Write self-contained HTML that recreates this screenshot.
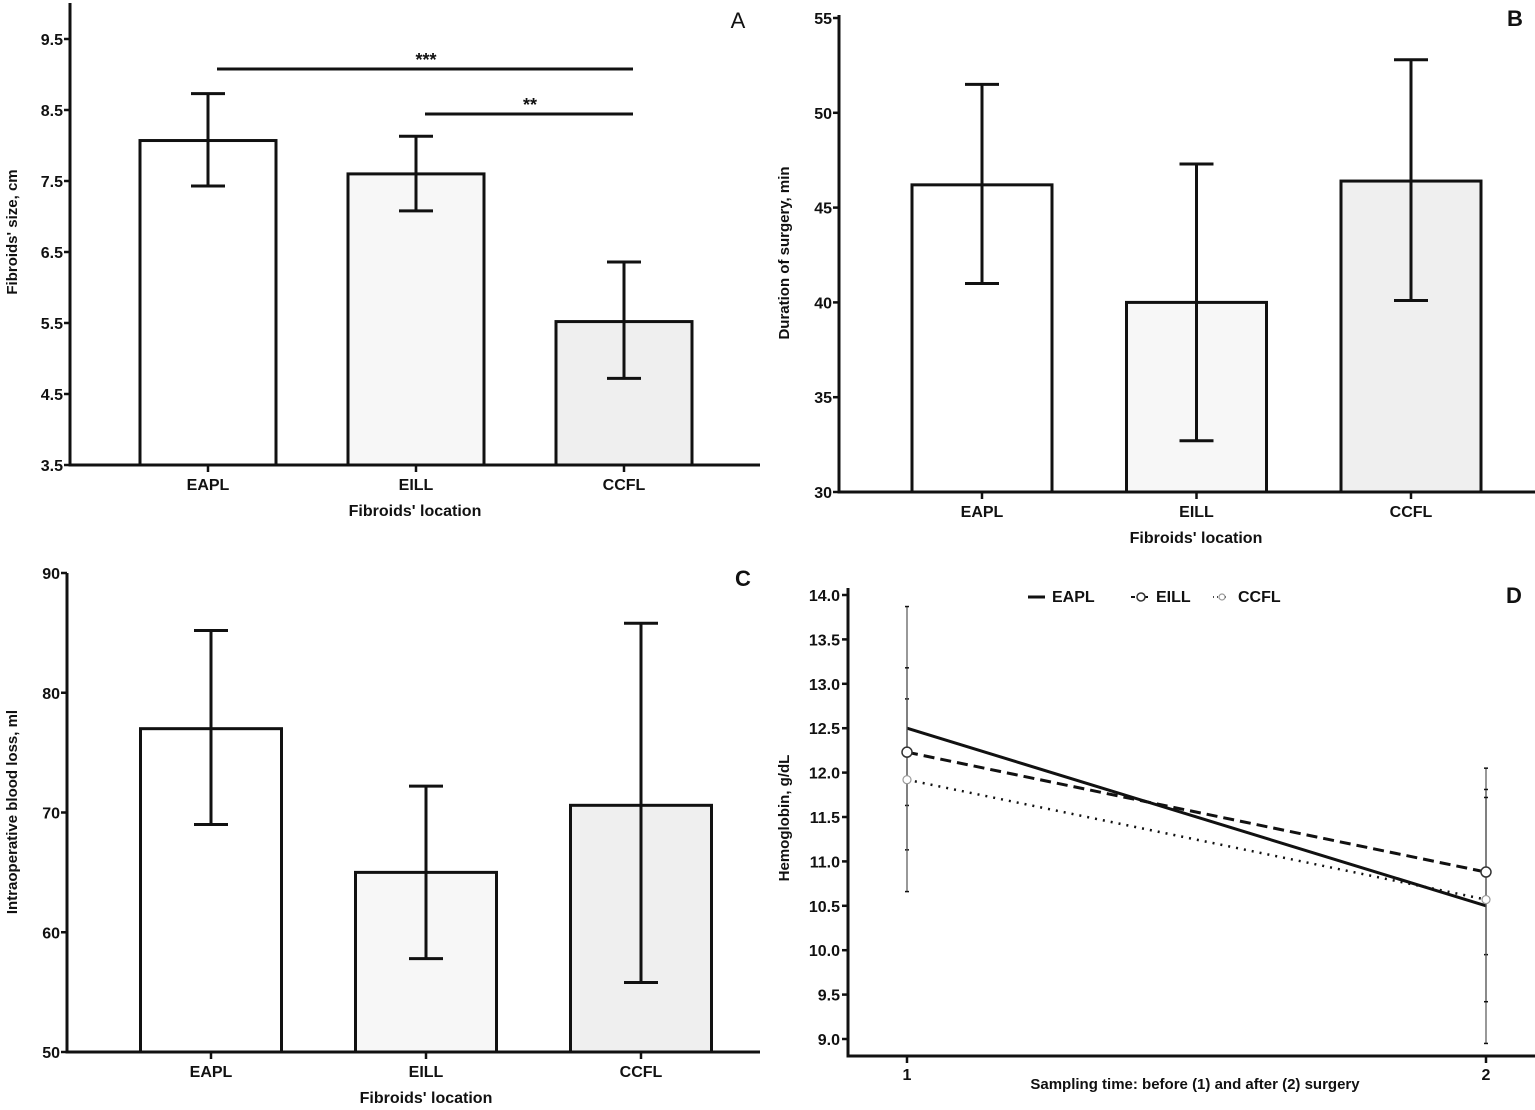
<!DOCTYPE html>
<html><head><meta charset="utf-8"><style>
html,body{margin:0;padding:0;background:#fff;}
svg{display:block;font-family:"Liberation Sans Narrow","Liberation Sans",sans-serif;}
</style></head><body>
<svg id="chart" width="1535" height="1110" viewBox="0 0 1535 1110" xmlns="http://www.w3.org/2000/svg"></svg>
<script>
const categories = ["EAPL","EILL","CCFL"];
const sizeMeans = [8.07, 7.60, 5.52];
const sizeErrHi = [8.73, 8.13, 6.36];
const sizeErrLo = [7.43, 7.08, 4.72];
const sizeTicks = ["3.5","4.5","5.5","6.5","7.5","8.5","9.5"];
const durMeans = [46.2, 40.0, 46.4];
const durErrHi = [51.5, 47.3, 52.8];
const durErrLo = [41.0, 32.7, 40.1];
const durTicks = ["30","35","40","45","50","55"];
const lossMeans = [77.0, 65.0, 70.6];
const lossErrHi = [85.2, 72.2, 85.8];
const lossErrLo = [69.0, 57.8, 55.8];
const lossTicks = ["50","60","70","80","90"];
const hbTimes = ["1","2"];
const hbEAPL = [12.50, 10.50];
const hbEILL = [12.23, 10.88];
const hbCCFL = [11.92, 10.57];
const hbErrEAPL = [1.37, 1.55];
const hbErrEILL = [0.60, 0.93];
const hbErrCCFL = [1.26, 1.15];
const hbTicks = ["9.0","9.5","10.0","10.5","11.0","11.5","12.0","12.5","13.0","13.5","14.0"];

const svg = document.getElementById('chart');
const NS = "http://www.w3.org/2000/svg";
function mk(tag, attrs, name, parent){
  const e = document.createElementNS(NS, tag);
  for (const k in attrs) e.setAttribute(k, attrs[k]);
  
  
  (parent||svg).appendChild(e);
  return e;
}
function txt(x,y,s,name,opts){
  opts=opts||{};
  const t = mk('text',{x:x,y:y,'font-size':opts.size||15,'font-weight':opts.weight||'bold','text-anchor':opts.anchor||'middle',fill:'#111'},name);
  if(opts.rot) t.setAttribute('transform','rotate(-90 '+x+' '+y+')');
  t.textContent=s; return t;
}
function line(x1,y1,x2,y2,name,w,dash){
  const l = mk('line',{x1:x1,y1:y1,x2:x2,y2:y2,stroke:'#111','stroke-width':w||3},name);
  if(dash) l.setAttribute('stroke-dasharray',dash);
  return l;
}
const fills = ["#ffffff","#f7f7f7","#efefef"];

function barPanel(p){
  const ys = v => p.y0 + (v - p.vmin)/(p.vmax-p.vmin)*(p.y1-p.y0);
  const xs = i => p.cx0 + i*p.step;
  line(p.ax, p.axTop, p.ax, p.y0+1.5, p.id+'-y-axis');
  line(p.ax, p.y0, p.axRight, p.y0, p.id+'-x-axis');
  p.ticks.forEach(t=>{
    const y = ys(parseFloat(t));
    line(p.ax-6,y,p.ax,y,p.id+'-y-tick',2.5);
    txt(p.ax-7,y+6,t,p.id+'-y-tick-label',{anchor:'end',size:16});
  });
  categories.forEach((c,i)=>{
    const cx = xs(i);
    const top = ys(p.means[i]);
    mk('rect',{x:cx-p.bw/2,y:top,width:p.bw,height:p.y0-top,fill:fills[i],stroke:'#111','stroke-width':3},p.id+'-bar-'+c.toLowerCase());
    const hi = ys(p.hi[i]), lo = ys(p.lo[i]);
    line(cx,hi,cx,lo,p.id+'-error-bar-'+c.toLowerCase());
    line(cx-17,hi,cx+17,hi,p.id+'-error-cap-top');
    line(cx-17,lo,cx+17,lo,p.id+'-error-cap-bottom');
    line(cx,p.y0,cx,p.y0+7,p.id+'-x-tick',2.5);
    txt(cx,p.y0+25,c,p.id+'-x-tick-label',{size:16});
  });
  txt(p.xtX,p.y0+51,"Fibroids' location",p.id+'-x-axis-title',{size:16});
  txt(p.ytX,p.ytY,p.ytitle,p.id+'-y-axis-title',{rot:true,size:15});
  txt(p.lx,p.ly,p.letter,p.id+'-panel-label',{size:22,weight:p.letterW||'bold'});
  return {ys,xs};
}

const A = barPanel({id:'panel-a',ax:70,axTop:3,axRight:760,y0:465,y1:39,vmin:3.5,vmax:9.5,cx0:208,step:208,bw:136,
  means:sizeMeans,hi:sizeErrHi,lo:sizeErrLo,ticks:sizeTicks,xtX:415,ytX:17,ytY:232,ytitle:"Fibroids' size, cm",lx:738,ly:28,letter:'A',letterW:'normal'});
line(A.xs(0)+9,69,A.xs(2)+9,69,'significance-line-eapl-ccfl');
txt(426,66,'***','significance-stars-3',{size:18});
line(A.xs(1)+9,114,A.xs(2)+9,114,'significance-line-eill-ccfl');
txt(530,111,'**','significance-stars-2',{size:18});

barPanel({id:'panel-b',ax:839,axTop:15,axRight:1535,y0:492,y1:18,vmin:30,vmax:55,cx0:982,step:214.5,bw:140,
  means:durMeans,hi:durErrHi,lo:durErrLo,ticks:durTicks,xtX:1196,ytX:789,ytY:253,ytitle:"Duration of surgery, min",lx:1515,ly:26,letter:'B'});

barPanel({id:'panel-c',ax:67,axTop:573,axRight:760,y0:1052,y1:573,vmin:50,vmax:90,cx0:211,step:215,bw:141,
  means:lossMeans,hi:lossErrHi,lo:lossErrLo,ticks:lossTicks,xtX:426,ytX:17,ytY:812,ytitle:"Intraoperative blood loss, ml",lx:743,ly:586,letter:'C'});

(function(){
  const id='panel-d', ax=848, y0=1056;
  const ys = v => 1039 + (v-9)/(14-9)*(595-1039);
  const xs = i => 907 + i*(1486-907);
  line(ax,588,ax,y0+1.5,id+'-y-axis');
  line(ax,y0,1535,y0,id+'-x-axis');
  hbTicks.forEach(t=>{
    const y=ys(parseFloat(t));
    line(ax-6,y,ax,y,id+'-y-tick',2.5);
    txt(ax-8,y+6,t,id+'-y-tick-label',{anchor:'end',size:16});
  });
  hbTimes.forEach((t,i)=>{
    line(xs(i),y0,xs(i),y0+7,id+'-x-tick',2.5);
    txt(xs(i),y0+24,t,id+'-x-tick-label',{size:16});
  });
  txt(1195,1089,"Sampling time: before (1) and after (2) surgery",id+'-x-axis-title',{size:15});
  txt(789,818,"Hemoglobin, g/dL",id+'-y-axis-title',{rot:true,size:15});
  txt(1514,603,'D',id+'-panel-label',{size:22});
  const series=[
    {n:'eapl',v:hbEAPL,e:hbErrEAPL,w:3,dash:null},
    {n:'eill',v:hbEILL,e:hbErrEILL,w:3,dash:'11 6'},
    {n:'ccfl',v:hbCCFL,e:hbErrCCFL,w:2.5,dash:'2 6'}];
  series.forEach(s=>{
    s.v.forEach((v,i)=>{
      const x=xs(i);
      line(x,ys(v+s.e[i]),x,ys(v-s.e[i]),id+'-error-bar-'+s.n,1.2).setAttribute('stroke','#555');
      line(x-2,ys(v+s.e[i]),x+2,ys(v+s.e[i]),id+'-error-cap',1.5);
      line(x-2,ys(v-s.e[i]),x+2,ys(v-s.e[i]),id+'-error-cap',1.5);
    });
    line(xs(0),ys(s.v[0]),xs(1),ys(s.v[1]),id+'-line-'+s.n,s.w,s.dash);
  });
  hbEILL.forEach((v,i)=>mk('circle',{cx:xs(i),cy:ys(v),r:5,fill:'#fff',stroke:'#333','stroke-width':1.5},id+'-marker-eill'));
  hbCCFL.forEach((v,i)=>mk('circle',{cx:xs(i),cy:ys(v),r:4,fill:'#fff',stroke:'#999','stroke-width':1.2},id+'-marker-ccfl'));
  line(1028,597,1045,597,'legend-eapl-line',3);
  txt(1052,602,'EAPL','legend-eapl-label',{anchor:'start',size:16});
  line(1131,597,1148,597,'legend-eill-line',2,'4 3');
  mk('circle',{cx:1141,cy:597,r:4,fill:'#fff',stroke:'#333','stroke-width':1.5},'legend-eill-marker');
  txt(1156,602,'EILL','legend-eill-label',{anchor:'start',size:16});
  line(1213,597,1228,597,'legend-ccfl-line',1.5,'1 3');
  mk('circle',{cx:1222,cy:597,r:3,fill:'#fff',stroke:'#999','stroke-width':1.2},'legend-ccfl-marker');
  txt(1238,602,'CCFL','legend-ccfl-label',{anchor:'start',size:16});
})();
</script>
</body></html>
